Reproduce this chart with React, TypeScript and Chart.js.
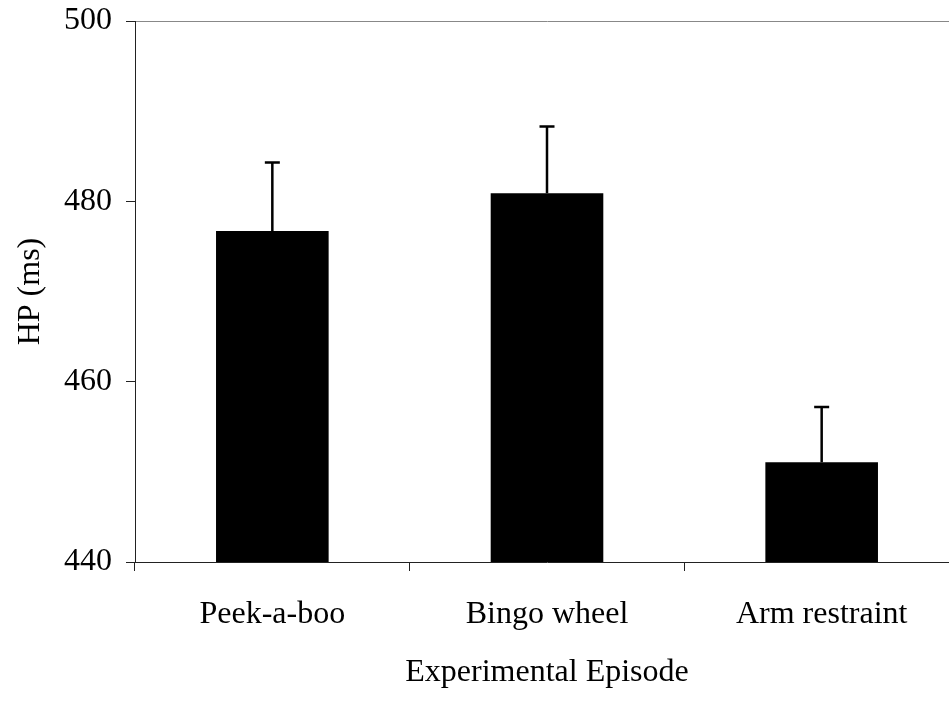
import React, { useEffect, useRef } from "react";
import { Chart, registerables } from "chart.js";

Chart.register(...registerables);

const categories = ["Peek-a-boo", "Bingo wheel", "Arm restraint"];
const means = [476.7, 480.9, 451.05];
const errors = [7.6, 7.4, 6.15];
const yTicks = [440, 460, 480, 500];
const xTitle = "Experimental Episode";
const yTitle = "HP (ms)";

const FONT = "'Liberation Serif', 'Times New Roman', serif";
const FS = 32;

const errorBarPlugin = {
  id: "errorBars",
  afterDatasetsDraw(chart: any) {
    const meta = chart.getDatasetMeta(0);
    const yScale = chart.scales.y;
    const ctx = chart.ctx;
    ctx.save();
    ctx.strokeStyle = "#000";
    ctx.lineWidth = 2.5;
    meta.data.forEach((el: any, i: number) => {
      const x = el.x;
      const yBase = yScale.getPixelForValue(means[i]);
      const yTop = yScale.getPixelForValue(means[i] + errors[i]);
      ctx.beginPath();
      ctx.moveTo(x, yBase);
      ctx.lineTo(x, yTop);
      ctx.moveTo(x - 7.5, yTop);
      ctx.lineTo(x + 7.5, yTop);
      ctx.stroke();
    });
    ctx.restore();
  },
};

export default function App() {
  const canvasRef = useRef<HTMLCanvasElement | null>(null);

  useEffect(() => {
    if (!canvasRef.current) return;
    const chart = new Chart(canvasRef.current, {
      type: "bar",
      data: {
        labels: categories,
        datasets: [
          {
            data: means,
            backgroundColor: "#000",
            borderWidth: 0,
            categoryPercentage: 1,
            barPercentage: 0.41,
          },
        ],
      },
      plugins: [errorBarPlugin],
      options: {
        animation: false,
        responsive: false,
        devicePixelRatio: 1,
        layout: { padding: { top: 21, right: 21, bottom: 0, left: 0 } },
        plugins: {
          legend: { display: false },
          tooltip: { enabled: false },
        },
        scales: {
          x: {
            grid: {
              offset: true,
              drawOnChartArea: false,
              drawTicks: true,
              tickLength: 9,
              tickColor: "#222",
            },
            border: { color: "#222", width: 1 },
            ticks: {
              color: "#000",
              font: { family: FONT, size: FS },
              padding: 24,
              maxRotation: 0,
            },
            title: {
              display: true,
              text: xTitle,
              color: "#000",
              font: { family: FONT, size: FS },
              padding: { top: 0, bottom: 9 },
            },
            afterFit(scale: any) {
              scale.height = 139;
              scale.paddingLeft = 0;
              scale.paddingRight = 0;
            },
          },
          y: {
            min: 440,
            max: 500,
            afterBuildTicks(scale: any) {
              scale.ticks = yTicks.map((v) => ({ value: v }));
            },
            grid: {
              drawOnChartArea: true,
              drawTicks: true,
              tickLength: 9,
              color: (ctx: any) =>
                ctx.tick && ctx.tick.value === 500 ? "#888" : "rgba(0,0,0,0)",
              tickColor: "#222",
            },
            border: { color: "#222", width: 1 },
            ticks: {
              color: "#000",
              font: { family: FONT, size: FS },
              padding: 14,
            },
            title: {
              display: true,
              text: yTitle,
              color: "#000",
              font: { family: FONT, size: FS },
              padding: { top: 11, bottom: 0 },
            },
            afterFit(scale: any) {
              scale.width = 135;
              scale.paddingTop = 0;
              scale.paddingBottom = 0;
            },
          },
        },
      },
    });
    return () => chart.destroy();
  }, []);

  return (
    <div
      style={{
        position: "fixed",
        left: 0,
        top: 0,
        width: 949,
        height: 701,
        overflow: "hidden",
        background: "#fff",
      }}
    >
      <canvas
        ref={canvasRef}
        width={980}
        height={701}
        style={{ width: 980, height: 701, display: "block" }}
      />
    </div>
  );
}
